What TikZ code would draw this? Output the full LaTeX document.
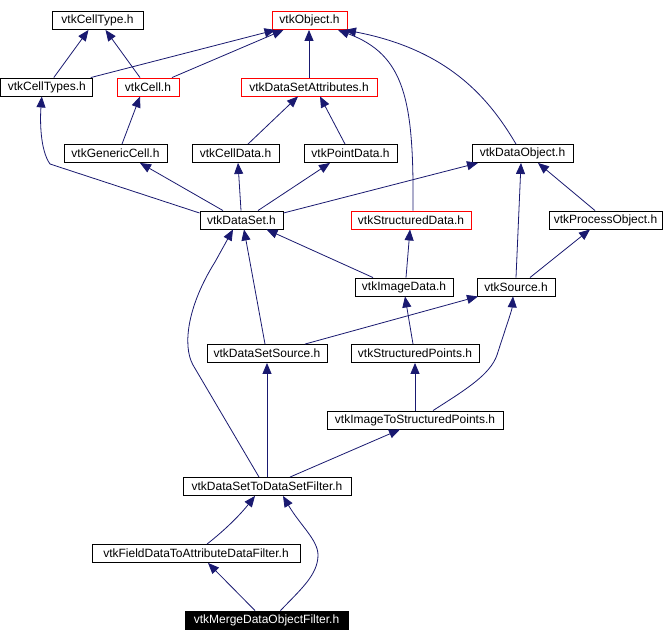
\documentclass[tikz,border=0pt]{standalone}
\usepackage{fontspec}
\setmainfont{Liberation Sans}
\usetikzlibrary{arrows.meta}
\definecolor{edgeblue}{HTML}{191970}
\definecolor{boxred}{HTML}{FF0000}
\begin{document}
\begin{tikzpicture}[x=1pt,y=-1pt,
  box/.style={draw=black, line width=0.9pt, fill=white, inner sep=0pt, minimum height=18pt,
    font=\fontsize{12}{14}\selectfont},
  redbox/.style={box, draw=boxred},
  blackbox/.style={box, fill=black, text=white},
  dep/.style={draw=edgeblue, line width=0.8pt, -{Triangle[length=11pt,width=9pt]}, fill=none}
]
\useasboundingbox (0,0) rectangle (666,642);
\fill[white] (0,0) rectangle (666,642);
% nodes
\node[box, minimum width=91pt] (celltype) at (97.5,20.5) {vtkCellType.h};
\node[redbox, minimum width=75pt] (object) at (309.5,20.5) {vtkObject.h};
\node[box, minimum width=92pt] (celltypes) at (46.8,87) {vtkCellTypes.h};
\node[redbox, minimum width=62pt] (cell) at (148,87) {vtkCell.h};
\node[redbox, minimum width=136pt] (dsattr) at (309,87) {vtkDataSetAttributes.h};
\node[box, minimum width=103pt] (generic) at (115.5,153.5) {vtkGenericCell.h};
\node[box, minimum width=87pt] (celldata) at (235.5,153.5) {vtkCellData.h};
\node[box, minimum width=93pt] (pointdata) at (350.5,153.5) {vtkPointData.h};
\node[box, minimum width=101pt] (dataobject) at (522.5,153.5) {vtkDataObject.h};
\node[box, minimum width=83pt] (dataset) at (241.5,220) {vtkDataSet.h};
\node[redbox, minimum width=120pt] (structdata) at (411,220) {vtkStructuredData.h};
\node[box, minimum width=113pt] (procobj) at (605.5,220) {vtkProcessObject.h};
\node[box, minimum width=98pt] (imagedata) at (404,287) {vtkImageData.h};
\node[box, minimum width=78pt] (source) at (516,287) {vtkSource.h};
\node[box, minimum width=120pt] (dssource) at (267,353.5) {vtkDataSetSource.h};
\node[box, minimum width=128pt] (structpts) at (415,353.5) {vtkStructuredPoints.h};
\node[box, minimum width=176pt] (imgtosp) at (415,420) {vtkImageToStructuredPoints.h};
\node[box, minimum width=168pt] (dstods) at (267,486.5) {vtkDataSetToDataSetFilter.h};
\node[box, minimum width=208pt] (fielddata) at (196,553.5) {vtkFieldDataToAttributeDataFilter.h};
\node[blackbox, minimum width=163pt] (merge) at (266.5,620) {vtkMergeDataObjectFilter.h};
% edges
\draw[dep] ([xshift=7]celltypes.north) -- ([xshift=-9]celltype.south);
\draw[dep] ([xshift=-8]cell.north) -- ([xshift=8]celltype.south);
\draw[dep] ([xshift=44]celltypes.north) -- ([xshift=-34]object.south);
\draw[dep] ([xshift=24]cell.north) -- ([xshift=-26]object.south);
\draw[dep] (dsattr.north) -- (dsattr.north |- object.south);
\draw[dep] ([yshift=7]dataset.west) -- (50,164) .. controls (40,150) and (40,120) .. ([xshift=-5]celltypes.south);
\draw[dep] ([xshift=6.5]generic.north) -- ([xshift=-8]cell.south);
\draw[dep] ([xshift=-18.5]dataset.north) -- ([xshift=24.5]generic.south);
\draw[dep] ([xshift=12.5]celldata.north) -- ([xshift=-11]dsattr.south);
\draw[dep] ([xshift=-5.5]pointdata.north) -- ([xshift=11]dsattr.south);
\draw[dep] ([xshift=-0.5]dataset.north) -- ([xshift=2.5]celldata.south);
\draw[dep] ([xshift=16.5]dataset.north) -- ([xshift=-20.5]pointdata.south);
\draw[dep] ([yshift=7]dataset.east) -- ([xshift=-44.5]dataobject.south);
\draw[dep] ([xshift=2]structdata.north) .. controls (414,100) and (405,55) .. ([xshift=28.5]object.south);
\draw[dep] ([xshift=-6.5]dataobject.north) .. controls (490,100) and (450,50) .. ([xshift=35.5]object.south);
\draw[dep] ([xshift=2]imagedata.north) -- ([xshift=-1]structdata.south);
\draw[dep] ([xshift=-31]imagedata.north) -- ([xshift=25]dataset.south);
\draw[dep] (source.north) -- ([xshift=-1.5]dataobject.south);
\draw[dep] ([xshift=-10.5]procobj.north) -- ([xshift=15.5]dataobject.south);
\draw[dep] ([xshift=14]source.north) -- ([xshift=-15.5]procobj.south);
\draw[dep] ([xshift=-2]dssource.north) -- ([xshift=2.5]dataset.south);
\draw[dep] ([xshift=38]dssource.north) -- ([xshift=-38]source.south);
\draw[dep] ([xshift=-2]structpts.north) -- ([xshift=1]imagedata.south);
\draw[dep] (imgtosp.north) -- (structpts.south);
\draw[dep] ([xshift=18]imgtosp.north) .. controls (465,390) and (490,375) .. (497,355) .. controls (505,330) and (512,310) .. ([xshift=-3]source.south);
\draw[dep] ([xshift=-8]dstods.north) -- (193,365) .. controls (182,345) and (188,305) .. (215,262) -- ([xshift=-8.5]dataset.south);
\draw[dep] (dstods.north) -- (dssource.south);
\draw[dep] ([xshift=23]dstods.north) -- ([xshift=-15]imgtosp.south);
\draw[dep] ([xshift=11]fielddata.north) .. controls (225,530) and (240,515) .. ([xshift=-12]dstods.south);
\draw[dep] ([xshift=14]merge.north) .. controls (300,590) and (318,575) .. (318,555) .. controls (318,540) and (300,525) .. ([xshift=16]dstods.south);
\draw[dep] ([xshift=-11.5]merge.north) -- ([xshift=12]fielddata.south);
\end{tikzpicture}
\end{document}
